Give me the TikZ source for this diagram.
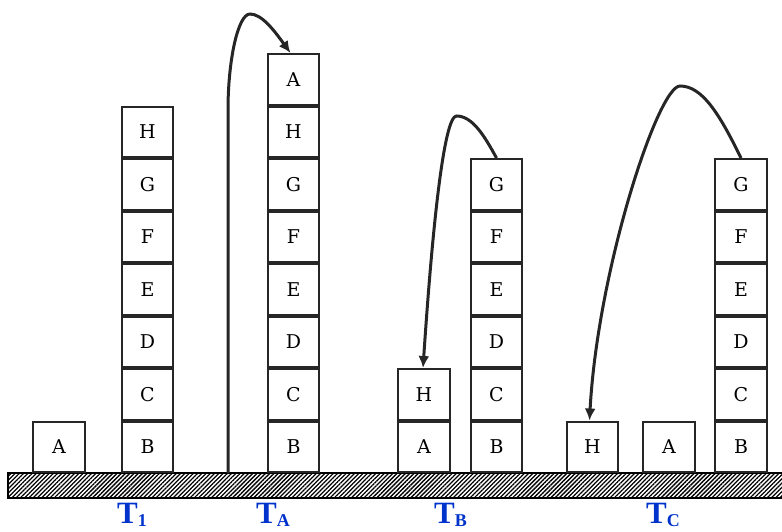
\documentclass[tikz,border=0pt]{standalone}
\usepackage{fontspec}
\usepackage{xcolor}
\usetikzlibrary{arrows.meta,positioning,patterns.meta}
\newfontfamily\labelfont{Liberation Serif}
\newfontfamily\blockfont{DejaVu Serif}
\definecolor{labelblue}{RGB}{0,51,204}
\newcommand{\tsub}[1]{\raisebox{-3pt}{\fontsize{18}{18}\selectfont #1}}

\begin{document}
\begin{tikzpicture}[>=Latex,x=1pt,y=-1pt,
    block/.style={draw=black!85,line width=2pt,fill=white,minimum width=51.5pt,minimum height=50.5pt,inner sep=0pt,font=\blockfont\fontsize{19}{19}\selectfont},
    move/.style={line width=3pt,black!85,-{Latex[length=12pt,width=11pt]}},
    towername/.style={anchor=base west,inner sep=0pt,text=labelblue,font=\labelfont\bfseries\fontsize{31}{31}\selectfont}]
  \useasboundingbox (0,0) rectangle (782,531);
  % ground
  \draw[line width=1.2pt,pattern={Lines[angle=45,distance=3pt,line width=1.3pt]}] (8,473) rectangle (790,498);
  % start state T1
  \node[block,anchor=south] (t1A) at (59,473) {A};
  \node[block,anchor=south] (t1B) at (147.5,473) {B};
  \foreach \l [remember=\l as \p (initially B)] in {C,D,E,F,G,H}
    \node[block,above=0pt of t1\p] (t1\l) {\l};
  % state TA
  \node[block,anchor=south] (taB) at (293.5,473) {B};
  \foreach \l [remember=\l as \p (initially B)] in {C,D,E,F,G,H,A}
    \node[block,above=0pt of ta\p] (ta\l) {\l};
  % state TB
  \node[block,anchor=south] (tbA) at (424,473) {A};
  \node[block,above=0pt of tbA] (tbH) {H};
  \node[block,anchor=south] (tbB) at (496.5,473) {B};
  \foreach \l [remember=\l as \p (initially B)] in {C,D,E,F,G}
    \node[block,above=0pt of tb\p] (tb\l) {\l};
  % state TC
  \node[block,anchor=south] (tcH) at (592.5,473) {H};
  \node[block,anchor=south] (tcA) at (669,473) {A};
  \node[block,anchor=south] (tcB) at (741,473) {B};
  \foreach \l [remember=\l as \p (initially B)] in {C,D,E,F,G}
    \node[block,above=0pt of tc\p] (tc\l) {\l};
  % moves
  \coordinate (taFoot) at (228,473);
  \draw[move] (taFoot) -- ++(0,-363) .. controls +(0,-50) and +(-12,0) .. ++(22,-96)
    .. controls +(12,0) and +(-16,-22) .. ([xshift=-3pt]taA.north);
  \draw[move] (tbG.north) .. controls +(-12,-22) and +(16,0) .. ++(-40,-42)
    .. controls +(-12,0) and +(10,-150) .. ([xshift=-1pt]tbH.north);
  \draw[move] (tcG.north) .. controls +(-22,-45) and +(22,0) .. ++(-61,-72)
    .. controls +(-22,0) and +(8,-150) .. ([xshift=-3pt]tcH.north);
  % labels
  \node[towername] (t1) at (117,523) {T\tsub{1}};
  \node[towername] (ta) at (256,523) {T\tsub{A}};
  \node[towername] (tb) at (434,523) {T\tsub{B}};
  \node[towername] (tc) at (646,523) {T\tsub{C}};
\end{tikzpicture}
\end{document}
